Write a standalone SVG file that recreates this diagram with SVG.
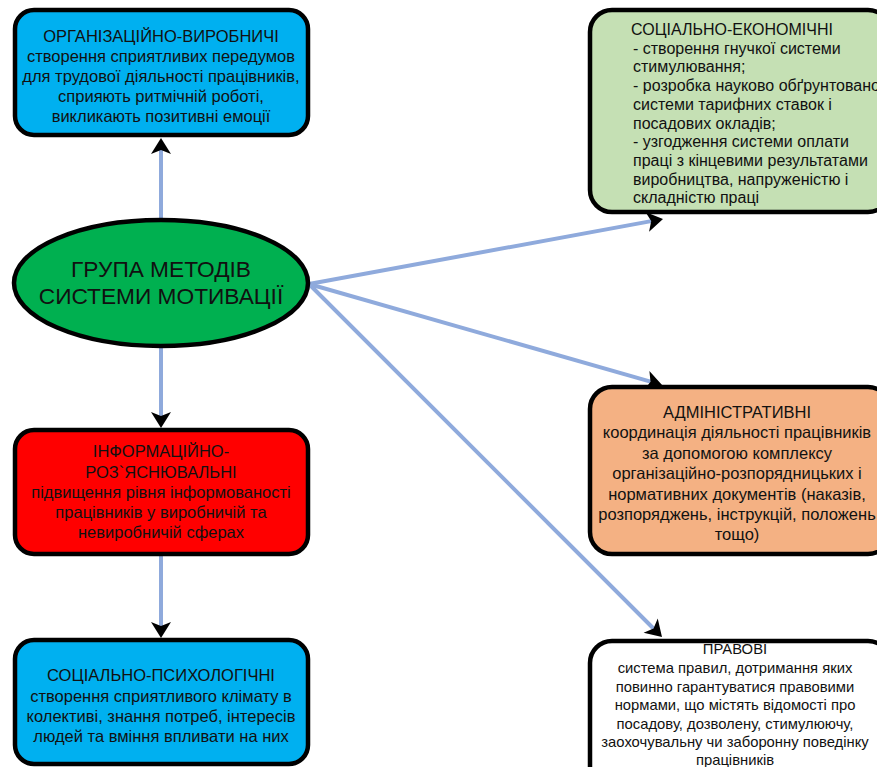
<svg xmlns="http://www.w3.org/2000/svg" width="877" height="767" viewBox="0 0 877 767">
  <style>
    .box { stroke: #000; stroke-width: 4.5; }
    .t { font-family: "Liberation Sans", Arial, sans-serif; font-size: 16.5px; fill: #111; text-anchor: middle; }
    .tl { font-family: "Liberation Sans", Arial, sans-serif; font-size: 16px; fill: #111; text-anchor: start; }
    .ts { font-family: "Liberation Sans", Arial, sans-serif; font-size: 14.8px; fill: #111; text-anchor: middle; }
    .big { font-family: "Liberation Sans", Arial, sans-serif; font-size: 22.7px; fill: #111; text-anchor: middle; }
    .conn { stroke: #8FAADC; stroke-width: 4; fill: none; }
  </style>
  <defs>
    <marker id="arr" markerUnits="userSpaceOnUse" viewBox="-5 -11 18 22" markerWidth="18" markerHeight="22" refX="0" refY="0" orient="auto">
      <path d="M12,0 L-4,-10 L0,0 L-4,10 Z" fill="#000"/>
    </marker>
  </defs>
  <rect width="877" height="767" fill="#fff"/>

  <g id="connectors">
    <line class="conn" x1="161" y1="218" x2="161" y2="150" marker-end="url(#arr)"/>
    <line class="conn" x1="161" y1="346" x2="161" y2="416" marker-end="url(#arr)"/>
    <line class="conn" x1="161" y1="556" x2="161" y2="626" marker-end="url(#arr)"/>
    <line class="conn" x1="309" y1="284" x2="651.2" y2="221.1" marker-end="url(#arr)"/>
    <line class="conn" x1="309" y1="284" x2="650.5" y2="381.7" marker-end="url(#arr)"/>
    <line class="conn" x1="309" y1="284" x2="653.5" y2="628.5" marker-end="url(#arr)"/>
  </g>

  <g id="node-org">
    <rect class="box" x="15" y="10" width="293" height="125" rx="19" fill="#00B0F0"/>
    <text class="t" x="161" y="41.5">ОРГАНІЗАЦІЙНО-ВИРОБНИЧІ</text>
    <text class="t" x="161" y="61.5">створення сприятливих передумов</text>
    <text class="t" x="161" y="81.5">для трудової діяльності працівників,</text>
    <text class="t" x="161" y="101.5">сприяють ритмічній роботі,</text>
    <text class="t" x="161" y="121.5">викликають позитивні емоції</text>
  </g>

  <g id="node-main">
    <ellipse class="box" cx="161" cy="283" rx="147" ry="63" fill="#00B050"/>
    <text class="big" x="161" y="277">ГРУПА МЕТОДІВ</text>
    <text class="big" x="161" y="303.5">СИСТЕМИ МОТИВАЦІЇ</text>
  </g>

  <g id="node-info">
    <rect class="box" x="15" y="430" width="293" height="124" rx="19" fill="#FF0000"/>
    <text class="t" x="161" y="457">ІНФОРМАЦІЙНО-</text>
    <text class="t" x="161" y="477.5">РОЗ`ЯСНЮВАЛЬНІ</text>
    <text class="t" x="161" y="498">підвищення рівня інформованості</text>
    <text class="t" x="161" y="518">працівників у виробничій та</text>
    <text class="t" x="161" y="538">невиробничій сферах</text>
  </g>

  <g id="node-psy">
    <rect class="box" x="15" y="640" width="293" height="124" rx="19" fill="#00B0F0"/>
    <text class="t" x="161" y="681">СОЦІАЛЬНО-ПСИХОЛОГІЧНІ</text>
    <text class="t" x="161" y="701.5">створення сприятливого клімату в</text>
    <text class="t" x="161" y="722">колективі, знання потреб, інтересів</text>
    <text class="t" x="161" y="742">людей та вміння впливати на них</text>
  </g>

  <g id="node-econ">
    <rect class="box" x="590" y="10" width="300" height="202" rx="22" fill="#C5E0B4"/>
    <text class="tl" x="631" y="35">СОЦІАЛЬНО-ЕКОНОМІЧНІ</text>
    <text class="tl" x="633" y="53.7">- створення гнучкої системи</text>
    <text class="tl" x="633" y="72.4">стимулювання;</text>
    <text class="tl" x="633" y="91.1">- розробка науково обґрунтованої</text>
    <text class="tl" x="633" y="109.8">системи тарифних ставок і</text>
    <text class="tl" x="633" y="128.5">посадових окладів;</text>
    <text class="tl" x="633" y="147.2">- узгодження системи оплати</text>
    <text class="tl" x="633" y="165.9">праці з кінцевими результатами</text>
    <text class="tl" x="633" y="184.6">виробництва, напруженістю і</text>
    <text class="tl" x="633" y="203.3">складністю праці</text>
  </g>

  <g id="node-admin">
    <rect class="box" x="590" y="387" width="300" height="167" rx="22" fill="#F4B183"/>
    <text class="t" x="737" y="417.5">АДМІНІСТРАТИВНІ</text>
    <text class="t" x="737" y="438">координація діяльності працівників</text>
    <text class="t" x="737" y="458.5">за допомогою комплексу</text>
    <text class="t" x="737" y="479">організаційно-розпорядницьких і</text>
    <text class="t" x="737" y="499.5">нормативних документів (наказів,</text>
    <text class="t" x="737" y="520">розпоряджень, інструкцій, положень</text>
    <text class="t" x="737" y="540">тощо)</text>
  </g>

  <g id="node-legal">
    <rect class="box" x="590" y="641" width="300" height="150" rx="22" fill="#FFFFFF"/>
    <text class="ts" x="735" y="654">ПРАВОВІ</text>
    <text class="ts" x="735" y="673">система правил, дотримання яких</text>
    <text class="ts" x="735" y="691.5">повинно гарантуватися правовими</text>
    <text class="ts" x="735" y="710">нормами, що містять відомості про</text>
    <text class="ts" x="735" y="728.5">посадову, дозволену, стимулюючу,</text>
    <text class="ts" x="735" y="747">заохочувальну чи заборонну поведінку</text>
    <text class="ts" x="735" y="764.5">працівників</text>
  </g>
</svg>
